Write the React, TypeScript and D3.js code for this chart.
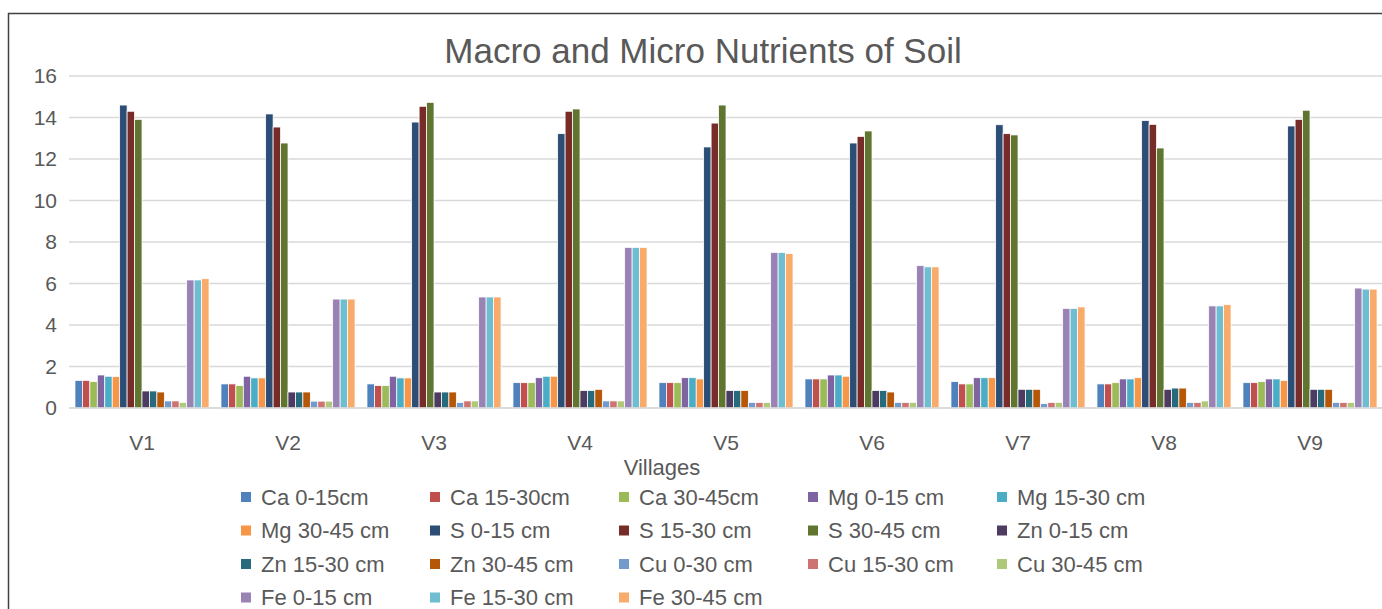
import React from 'react';
import * as d3 from 'd3';

const villages = ['V1', 'V2', 'V3', 'V4', 'V5', 'V6', 'V7', 'V8', 'V9'];

const seriesNames = [
  'Ca 0-15cm', 'Ca 15-30cm', 'Ca 30-45cm',
  'Mg 0-15 cm', 'Mg 15-30 cm', 'Mg 30-45 cm',
  'S 0-15 cm', 'S 15-30 cm', 'S 30-45 cm',
  'Zn 0-15 cm', 'Zn 15-30 cm', 'Zn 30-45 cm',
  'Cu 0-30 cm', 'Cu 15-30 cm', 'Cu 30-45 cm',
  'Fe 0-15 cm', 'Fe 15-30 cm', 'Fe 30-45 cm',
];

const seriesColors = [
  '#4F81BD', '#C0504D', '#9BBB59',
  '#8064A2', '#4BACC6', '#F79646',
  '#2C4D75', '#772C2A', '#5F7530',
  '#4D3B62', '#276A7C', '#B65708',
  '#729ACA', '#CD7371', '#AFC97A',
  '#9983B5', '#6FBDD1', '#F9AB6B',
];

// one row per village, one value per series (same order as seriesNames)
const v1 = [1.33, 1.33, 1.27, 1.59, 1.53, 1.51, 14.6, 14.3, 13.91, 0.82, 0.82, 0.77, 0.34, 0.34, 0.27, 6.17, 6.17, 6.23];
const v2 = [1.16, 1.16, 1.08, 1.53, 1.45, 1.45, 14.17, 13.54, 12.77, 0.77, 0.77, 0.77, 0.33, 0.33, 0.33, 5.25, 5.25, 5.25];
const v3 = [1.16, 1.08, 1.08, 1.53, 1.45, 1.45, 13.78, 14.54, 14.73, 0.77, 0.77, 0.77, 0.26, 0.34, 0.34, 5.35, 5.35, 5.35];
const v4 = [1.22, 1.22, 1.22, 1.46, 1.53, 1.53, 13.22, 14.3, 14.41, 0.84, 0.84, 0.9, 0.34, 0.34, 0.34, 7.74, 7.74, 7.74];
const v5 = [1.22, 1.22, 1.22, 1.46, 1.46, 1.4, 12.58, 13.73, 14.6, 0.84, 0.84, 0.84, 0.27, 0.27, 0.27, 7.5, 7.5, 7.44];
const v6 = [1.4, 1.4, 1.4, 1.59, 1.59, 1.53, 12.77, 13.09, 13.35, 0.84, 0.84, 0.77, 0.27, 0.27, 0.27, 6.86, 6.8, 6.8];
const v7 = [1.27, 1.16, 1.16, 1.46, 1.46, 1.46, 13.65, 13.22, 13.16, 0.9, 0.9, 0.9, 0.21, 0.27, 0.27, 4.8, 4.8, 4.87];
const v8 = [1.16, 1.16, 1.22, 1.4, 1.4, 1.46, 13.85, 13.67, 12.53, 0.9, 0.96, 0.96, 0.27, 0.27, 0.34, 4.92, 4.92, 4.98];
const v9 = [1.22, 1.22, 1.27, 1.4, 1.4, 1.33, 13.59, 13.91, 14.35, 0.9, 0.9, 0.9, 0.27, 0.27, 0.27, 5.78, 5.73, 5.73];

const values = [v1, v2, v3, v4, v5, v6, v7, v8, v9];

const yTicks = [0, 2, 4, 6, 8, 10, 12, 14, 16];

const width = 1382;
const height = 609;
const font = "'Liberation Sans', Arial, sans-serif";
const textColor = '#595959';

export default function App() {
  const plot = { left: 69, right: 1383, top: 76, bottom: 408 };

  const x0 = d3.scaleBand<string>()
    .domain(villages)
    .range([plot.left, plot.right])
    .paddingInner(0.082)
    .paddingOuter(0.041);

  const x1 = d3.scaleBand<string>()
    .domain(seriesNames)
    .range([0, x0.bandwidth()]);

  const y = d3.scaleLinear().domain([0, 16]).range([plot.bottom, plot.top]);

  const legendCols = 5;
  const legendX = (i: number) => 241 + (i % legendCols) * 189;
  const legendY = (i: number) => 497 + Math.floor(i / legendCols) * 33.5;

  return (
    <div style={{ position: 'absolute', left: 0, top: 0 }}>
      <svg width={width} height={height} style={{ display: 'block', background: '#fff' }}>
        {/* frame */}
        <line x1={8} x2={width} y1={13.5} y2={13.5} stroke="#404040" strokeWidth={1.5} />
        <line x1={8.5} x2={8.5} y1={13} y2={height} stroke="#404040" strokeWidth={1.5} />

        <text x={703} y={63} textAnchor="middle" fontFamily={font} fontSize={35} fill={textColor}>
          Macro and Micro Nutrients of Soil
        </text>

        {yTicks.map(t => (
          <g key={t}>
            <line x1={plot.left} x2={width} y1={y(t)} y2={y(t)} stroke="#d9d9d9" strokeWidth={1.5} />
            <text x={57} y={y(t)} dy="0.35em" textAnchor="end" fontFamily={font} fontSize={21} fill={textColor}>
              {t}
            </text>
          </g>
        ))}

        {villages.map((v, vi) => (
          <g key={v} transform={`translate(${x0(v)},0)`}>
            {seriesNames.map((s, si) => {
              const val = values[vi][si];
              return (
                <rect
                  key={s}
                  x={x1(s)}
                  y={y(val)}
                  width={x1.bandwidth()}
                  height={y(0) - y(val)}
                  fill={seriesColors[si]}
                  stroke="#fff"
                  strokeWidth={0.75}
                />
              );
            })}
          </g>
        ))}

        <line x1={plot.left} x2={width} y1={y(0)} y2={y(0)} stroke="#d9d9d9" strokeWidth={1.5} />

        {villages.map(v => (
          <text
            key={v}
            x={(x0(v) ?? 0) + x0.bandwidth() / 2}
            y={443}
            dy="0.35em"
            textAnchor="middle"
            fontFamily={font}
            fontSize={21}
            fill={textColor}
          >
            {v}
          </text>
        ))}

        <text x={662} y={467} dy="0.35em" textAnchor="middle" fontFamily={font} fontSize={22} fill={textColor}>
          Villages
        </text>

        {seriesNames.map((s, i) => (
          <g key={s} transform={`translate(${legendX(i)},${legendY(i)})`}>
            <rect x={0} y={-5} width={10} height={10} fill={seriesColors[i]} />
            <text x={20} y={0} dy="0.35em" fontFamily={font} fontSize={22} fill={textColor}>
              {s}
            </text>
          </g>
        ))}
      </svg>
    </div>
  );
}
